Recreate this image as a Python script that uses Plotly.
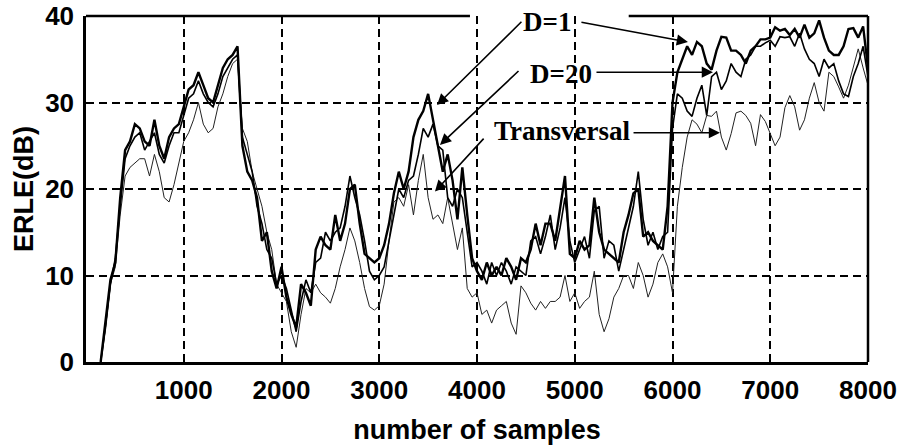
import plotly.graph_objects as go

# sample index grid (every 50 samples)
samples = list(range(150, 8001, 50))

erle_d1 = [
    0, 4.5, 9.5, 11.5, 19, 24.5, 25.5, 27.5, 27, 25.5,
    25, 28, 25, 23.5, 26, 27, 27.5, 29.5, 31.5, 32,
    33.5, 32, 30.5, 30, 32, 34, 35, 35.5, 36.5, 25,
    22, 21, 19, 14, 15, 10.5, 8.5, 11, 7.5, 5.5,
    4, 9, 8, 6.5, 13, 14.5, 13.5, 13, 17, 14,
    16, 20, 20.5, 16, 12.5, 12, 11.5, 12, 13.5, 16,
    19.5, 22, 20, 22, 26, 28, 29, 31, 28, 25,
    22, 24, 21, 16.5, 22.5, 17, 12, 10.5, 9.5, 11.5,
    10, 11, 10, 12, 11, 9.5, 12, 11.5, 13, 16,
    13.5, 16, 16, 14, 17.5, 21.5, 12.5, 12, 14, 13,
    13.5, 19, 15, 13, 12.5, 12, 11.5, 15, 17, 19.5,
    20, 14.5, 15, 14, 13.5, 13, 18, 30, 33.5, 35,
    36.5, 35.5, 37, 36.5, 34.5, 33.8, 36, 37.6, 37.5, 36,
    36, 35.5, 34.5, 36, 36.5, 37.3, 37.3, 37.5, 38.7, 38.3,
    38.5, 37.8, 38.5, 37.5, 39, 37.5, 38, 39.5, 37.5, 36,
    35.5, 35.5, 36.5, 38.5, 38.6, 37.5, 38.8, 34,
]

erle_d20 = [
    0, 4, 9, 12, 18, 23.5, 25, 26, 26.5, 24.5,
    25.5, 26.5, 24, 23, 25, 26.5, 26.5, 28.5, 30.5, 31,
    32.5, 31, 30, 29.5, 31, 33, 34, 35, 35.5, 26,
    24, 22, 18, 16, 13, 12, 9, 10, 8.5, 6,
    3.5, 7, 9.5, 8, 11.5, 12, 15, 14, 15, 15.5,
    18, 21.5, 19, 17, 14, 10.5, 9.5, 10, 11, 14,
    17, 20, 19, 21, 21.5, 24, 27, 26, 27.5, 25,
    24.5, 19, 18, 20, 19, 15, 11, 11.5, 10.5, 9,
    11.5, 10, 11.5, 10.5, 9, 11, 10.5, 10, 14, 14.5,
    12.5, 14.5, 17, 13, 15.5, 19, 14, 11.5, 13, 14.5,
    12, 17.5, 18, 12, 14, 13.5, 10.5, 13, 15.5, 18,
    22, 16.5, 13.5, 15, 13, 14.5, 15, 27, 31, 30.5,
    29, 28.4, 30.5, 32, 28.5, 33, 33.5, 31.5, 32.5, 34.5,
    33.5, 33, 35, 35.5, 36.5, 36.5, 36.9, 37.2, 36.5, 37.6,
    37.5, 37.6, 36.5, 38, 36.2, 35, 34.5, 33, 35, 34,
    34.5, 32.5, 31, 30.7, 33, 34.5, 36.5, 33,
]

erle_transversal = [
    0, 4, 9, 11, 17, 21.5, 22.5, 23, 23.5, 23.5,
    21.5, 24, 22, 19, 18.5, 20.5, 23, 25.5, 26.5, 28,
    30, 27.5, 26.5, 27, 29.5, 31, 33, 34.5, 35, 27,
    25.5, 22, 20, 18, 15, 13, 9, 8, 7, 3.5,
    1.7, 5.5, 8.5, 8, 9, 8, 7.5, 6.8, 8.5, 11,
    13, 15.5, 14, 11.5, 8.5, 6.4, 6, 6.5, 9, 14,
    18.5, 19, 18, 20.5, 17, 21, 24, 19, 16.5, 17,
    16, 19, 16, 13, 15.5, 8.5, 7.5, 8, 5.5, 6,
    4.5, 6, 6.5, 7, 4.5, 3.2, 8.8, 8, 6.8, 6,
    7, 6.2, 7, 7, 7.5, 10, 7, 8, 6.2, 7,
    7.5, 10.5, 5.5, 3.5, 5, 7.5, 8.5, 10, 10, 8.5,
    11.5, 10, 7.5, 9, 11.5, 12.5, 11, 8, 18, 22.5,
    26, 28, 27.5, 26.5, 28.5, 28.4, 29, 26, 24.5, 26.4,
    28.8, 29, 28.5, 27.6, 25, 28.6, 27.8, 26.5, 25, 26,
    29.4, 30.8, 29.5, 26.8, 28, 30.5, 32.3, 30, 29, 33.5,
    33, 31.8, 30.5, 32, 34, 36.2, 34, 32,
]

x_tick_vals = [1000, 2000, 3000, 4000, 5000, 6000, 7000, 8000]
x_tick_text = ["1000", "2000", "3000", "4000", "5000", "6000", "7000", "8000"]
y_tick_vals = [0, 10, 20, 30, 40]
y_tick_text = ["0", "10", "20", "30", "40"]

tick_font = dict(family="Liberation Sans", size=26, color="black", weight="bold")
title_font = dict(family="Liberation Sans", size=27, color="black", weight="bold")
label_font = dict(family="Liberation Serif", size=27, color="black", weight="bold")

fig = go.Figure()
fig.add_trace(go.Scatter(x=samples, y=erle_transversal, mode="lines", name="Transversal",
                         line=dict(color="#222222", width=1)))
fig.add_trace(go.Scatter(x=samples, y=erle_d20, mode="lines", name="D=20",
                         line=dict(color="black", width=1.6)))
fig.add_trace(go.Scatter(x=samples, y=erle_d1, mode="lines", name="D=1",
                         line=dict(color="black", width=2.4)))

fig.update_layout(
    width=901, height=446,
    margin=dict(l=86, r=33, t=16, b=84, autoexpand=False),
    paper_bgcolor="white", plot_bgcolor="white",
    showlegend=False,
)
fig.update_xaxes(
    range=[0, 8000], tickvals=x_tick_vals, ticktext=x_tick_text, automargin=False,
    showgrid=True, gridcolor="black", gridwidth=2, griddash="8px,5px",
    showline=True, linecolor="black", linewidth=2.5, zeroline=False,
    ticks="outside", ticklen=3, tickcolor="rgba(0,0,0,0)", tickfont=tick_font,
    title=dict(text="number of samples", font=title_font, standoff=17),
)
fig.update_yaxes(
    range=[0, 40], tickvals=y_tick_vals, ticktext=y_tick_text, automargin=False,
    showgrid=True, gridcolor="black", gridwidth=2, griddash="8px,5px",
    showline=True, linecolor="black", linewidth=2.5, zeroline=False,
    ticks="outside", ticklen=4, tickcolor="rgba(0,0,0,0)", tickfont=tick_font,
    title=dict(text="ERLE(dB)", font=title_font, standoff=4),
)

# white area behind the labels (hides grid there)
fig.add_shape(type="rect", xref="paper", yref="paper", x0=0.491, x1=0.698, y0=0.59, y1=1.05,
              fillcolor="white", line=dict(width=0), layer="between")
# frame: right edge and broken top edge
fig.add_shape(type="line", xref="paper", yref="paper", x0=1, x1=1, y0=0, y1=1,
              line=dict(color="black", width=2.5), layer="above")
fig.add_shape(type="line", xref="paper", yref="paper", x0=0, x1=0.491, y0=1, y1=1,
              line=dict(color="black", width=2.5), layer="above")
fig.add_shape(type="line", xref="paper", yref="paper", x0=0.694, x1=1, y0=1, y1=1,
              line=dict(color="black", width=2.5), layer="above")

labels = [("D=1", 4720, 39.35), ("D=20", 4860, 33.35), ("Transversal", 4870, 26.65)]
for txt, lx, ly in labels:
    fig.add_annotation(x=lx, y=ly, xref="x", yref="y", text=txt, showarrow=False,
                       font=label_font, xanchor="center", yanchor="middle")

arrows = [
    (3591, 29.7, 4470, 39.5),
    (3621, 25.1, 4440, 33.8),
    (3570, 19.7, 4082, 26.0),
    (6158, 37.0, 5053, 39.3),
    (6414, 33.5, 5207, 33.5),
    (6486, 26.5, 5586, 26.5),
]
for tx, ty, sx, sy in arrows:
    fig.add_annotation(x=tx, y=ty, xref="x", yref="y", ax=sx, ay=sy, axref="x", ayref="y",
                       text="", showarrow=True, arrowhead=2, arrowsize=1.4, arrowwidth=1.6,
                       arrowcolor="black", standoff=0, startstandoff=0)

fig.write_html("out.html", config={"displayModeBar": False},
               post_script="document.body.style.margin='0';")
